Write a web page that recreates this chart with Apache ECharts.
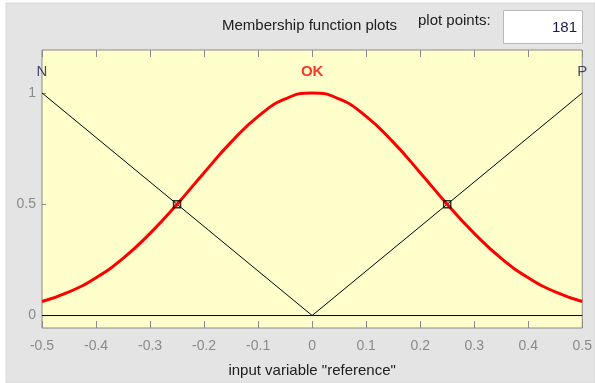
<!DOCTYPE html>
<html>
<head>
<meta charset="utf-8">
<script src="https://cdn.jsdelivr.net/npm/echarts@6/dist/echarts.min.js"></script>
<style>
html,body{margin:0;padding:0;background:#fff;}
#c{width:595px;height:383px;}
</style>
</head>
<body>
<div id="c"></div>
<script>
// ---- data ----
var xTicks = [-0.5, -0.4, -0.3, -0.2, -0.1, 0, 0.1, 0.2, 0.3, 0.4, 0.5];
var yTicks = [0, 0.5, 1];
var okX = [-0.5, -0.45, -0.4, -0.35, -0.3, -0.25, -0.2, -0.15, -0.1, -0.05, 0, 0.05, 0.1, 0.15, 0.2, 0.25, 0.3, 0.35, 0.4, 0.45, 0.5];
var okY = [0.063, 0.106, 0.170, 0.257, 0.369, 0.5, 0.642, 0.779, 0.895, 0.973, 1, 0.973, 0.895, 0.779, 0.642, 0.5, 0.369, 0.257, 0.170, 0.106, 0.063];
var nX = [-0.5, 0, 0.5];
var nY = [1, 0, 0];
var pX = [-0.5, 0, 0.5];
var pY = [0, 0, 1];
var mfNames = ['N', 'OK', 'P'];
var mfPeaks = [-0.5, 0, 0.5];
var crossX = [-0.25, 0.25];
var crossY = [0.5, 0.5];
var plotPoints = '181';
var headerTitle = 'Membership function plots';
var xName = 'input variable "reference"';

function pairs(xs, ys) { return xs.map(function (x, i) { return [x, ys[i]]; }); }

var FONT = '"Liberation Sans Narrow", "Liberation Sans", Arial, sans-serif';
var chart = echarts.init(document.getElementById('c'), null, {renderer: 'canvas'});

var option = {
  backgroundColor: '#ffffff',
  animation: false,
  textStyle: {fontFamily: FONT},
  graphic: [
    {type: 'rect', z: -10, shape: {x: 6, y: 3, width: 589, height: 380}, style: {fill: '#e4e4e4', stroke: '#d8d8d8', lineWidth: 1}},
    {type: 'text', left: 222, top: 18, style: {text: headerTitle, fontSize: 15, fontFamily: FONT, fill: '#202020'}},
    {type: 'text', left: 418, top: 13, style: {text: 'plot points:', fontSize: 15, fontFamily: FONT, fill: '#202020'}},
    {type: 'rect', shape: {x: 503.5, y: 10.5, width: 79, height: 33}, style: {fill: '#ffffff', stroke: '#b8b8b8', lineWidth: 1}},
    {type: 'text', right: 595 - 577, top: 20, style: {text: plotPoints, fontSize: 15, fontFamily: FONT, fill: '#1a1a50', align: 'right'}}
  ],
  grid: {left: 42, right: 12, top: 50, bottom: 55, show: true, backgroundColor: '#ffffcc', borderColor: '#8a8a8a', borderWidth: 1},
  xAxis: [{
    type: 'value', min: -0.5, max: 0.5, interval: 0.1, position: 'bottom',
    axisLine: {show: false, onZero: false},
    axisTick: {show: true, inside: true, length: 7, lineStyle: {color: '#8a8a8a'}},
    splitLine: {show: false},
    axisLabel: {color: '#8a8a8a', fontSize: 14, margin: 11, fontFamily: FONT,
      formatter: function (v) { return String(Math.round(v * 10) / 10); }},
    name: xName, nameLocation: 'middle', nameGap: 35,
    nameTextStyle: {color: '#202020', fontSize: 15, fontFamily: FONT}
  }, {
    type: 'value', min: -0.5, max: 0.5, interval: 0.1, position: 'top',
    axisLine: {show: false, onZero: false},
    axisTick: {show: true, inside: true, length: 7, lineStyle: {color: '#8a8a8a'}},
    axisLabel: {show: false}, splitLine: {show: false}
  }],
  yAxis: {
    type: 'value', min: -0.056, max: 1.193, position: 'left',
    axisLine: {show: false, onZero: false},
    axisTick: {show: true, inside: true, length: 4, customValues: yTicks, lineStyle: {color: '#8a8a8a'}},
    splitLine: {show: false},
    axisLabel: {color: '#8a8a8a', fontSize: 14, margin: 6, fontFamily: FONT, customValues: yTicks,
      formatter: function (v) { return String(v); }}
  },
  series: [
    {type: 'line', name: 'N', data: pairs(nX, nY), showSymbol: false, symbol: 'none',
      lineStyle: {color: '#000', width: 1}, z: 3},
    {type: 'line', name: 'P', data: pairs(pX, pY), showSymbol: false, symbol: 'none',
      lineStyle: {color: '#000', width: 1}, z: 3},
    {type: 'line', name: 'OK', data: pairs(okX, okY), smooth: true, showSymbol: false, symbol: 'none',
      lineStyle: {color: '#ff0000', width: 3}, z: 4},
    {type: 'scatter', data: pairs(crossX, crossY), symbol: 'rect', symbolSize: 7,
      itemStyle: {color: 'rgba(0,0,0,0)', borderColor: '#000', borderWidth: 1.5}, z: 5},
    {type: 'scatter', symbolSize: 0, z: 6,
      data: mfNames.map(function (n, i) { return {value: [mfPeaks[i], 1], name: n}; }),
      label: {show: true, position: 'top', distance: 14, fontSize: 15, fontFamily: FONT,
        formatter: function (p) { return p.name; },
        color: '#1a1a50'},
      labelLayout: {hideOverlap: false}
    }
  ]
};
// OK label is red and bold
option.series[4].data[1].label = {color: '#ff0000', fontWeight: 'bold'};
chart.setOption(option);
</script>
</body>
</html>
